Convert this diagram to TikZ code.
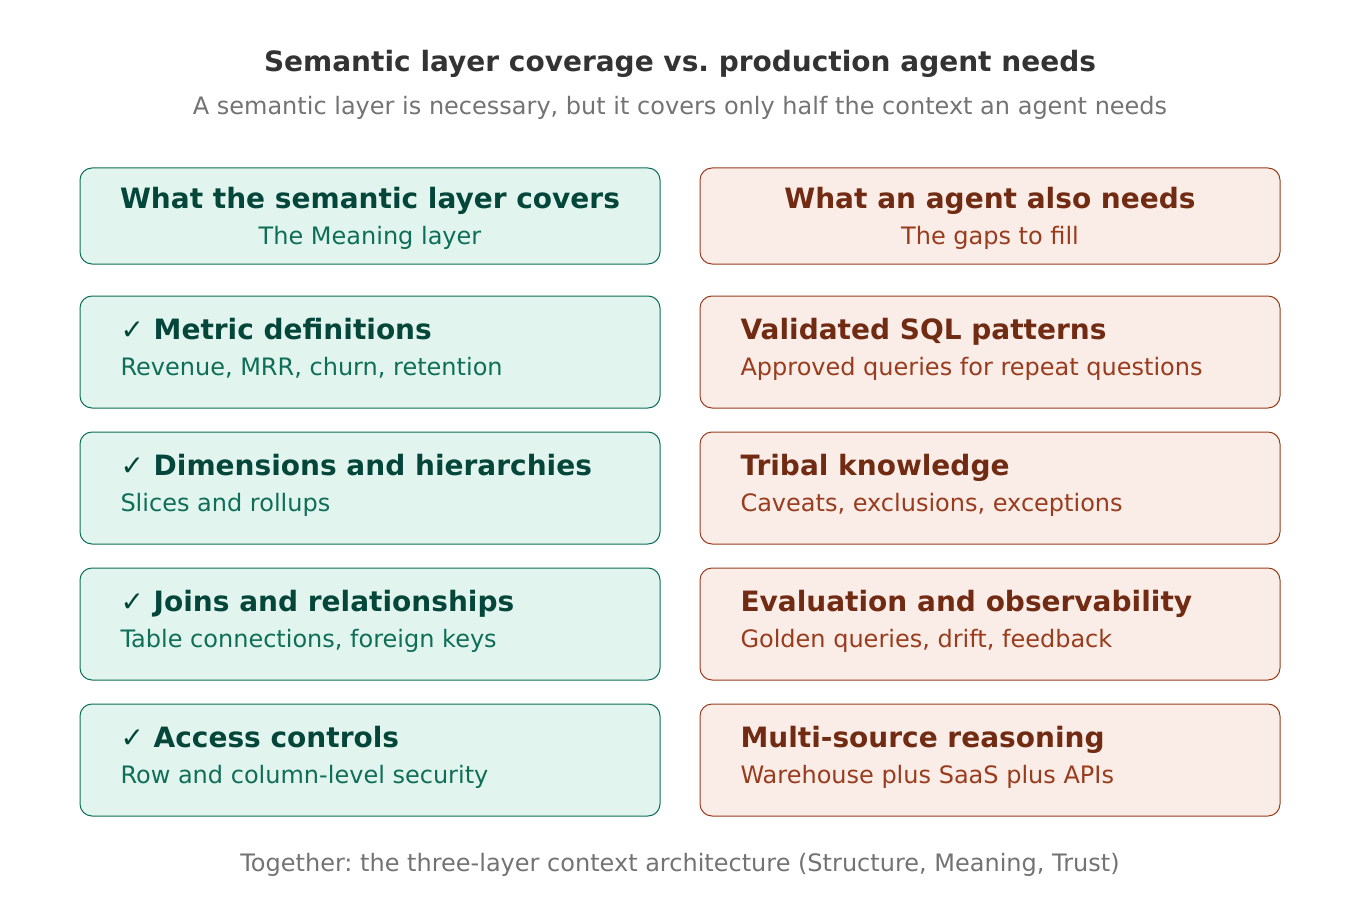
\documentclass[tikz,border=0pt]{standalone}
\usepackage{fontspec}
\setmainfont{DejaVu Sans}
\frenchspacing
\definecolor{gfill}{HTML}{E1F5EE}
\definecolor{gline}{HTML}{0F6E56}
\definecolor{gdark}{HTML}{04463A}
\definecolor{rfill}{HTML}{FAECE7}
\definecolor{rline}{HTML}{993C1D}
\definecolor{rdark}{HTML}{712B13}
\definecolor{titlegray}{HTML}{333333}
\definecolor{subgray}{HTML}{737373}
\tikzset{every picture/.style={line width=0.75pt}}
\tikzset{
  gbox/.style={draw=gline,fill=gfill,rounded corners=9pt},
  rbox/.style={draw=rline,fill=rfill,rounded corners=9pt},
  gtitle/.style={font=\fontsize{21}{24}\selectfont\bfseries,text=gdark,inner sep=0pt},
  gsub/.style={font=\fontsize{18}{21}\selectfont,text=gline,inner sep=0pt},
  rtitle/.style={font=\fontsize{21}{24}\selectfont\bfseries,text=rdark,inner sep=0pt},
  rsub/.style={font=\fontsize{18}{21}\selectfont,text=rline,inner sep=0pt}
}
\begin{document}
\begin{tikzpicture}[x=0.75pt,y=0.75pt,yscale=-1,xscale=1]
\useasboundingbox (0,0) rectangle (1360,920);

% Title
\node[font=\fontsize{21}{24}\selectfont\bfseries,text=titlegray,anchor=base] (title) at (680,72) {Semantic layer coverage vs. production agent needs};
\node[font=\fontsize{18}{21}\selectfont,text=subgray,anchor=base] (subtitle) at (680,115) {A semantic layer is necessary, but it covers only half the context an agent needs};

% Header boxes
\draw[gbox] (80,168) rectangle (660,264);
\node[gtitle,anchor=base] (lhead) at (370,209) {What the semantic layer covers};
\node[gsub,anchor=base] (lheadsub) at (370,244) {The Meaning layer};
\draw[rbox] (700,168) rectangle (1280,264);
\node[rtitle,anchor=base] (rhead) at (990,209) {What an agent also needs};
\node[rsub,anchor=base] (rheadsub) at (990,244) {The gaps to fill};

% Rows
\foreach \i/\lt/\ls/\rt/\rs in {
  0/Metric definitions/{Revenue, MRR, churn, retention}/Validated SQL patterns/Approved queries for repeat questions,
  1/Dimensions and hierarchies/Slices and rollups/Tribal knowledge/{Caveats, exclusions, exceptions},
  2/Joins and relationships/{Table connections, foreign keys}/Evaluation and observability/{Golden queries, drift, feedback},
  3/Access controls/Row and column-level security/Multi-source reasoning/Warehouse plus SaaS plus APIs}{
  \pgfmathsetmacro{\top}{296+136*\i}
  \draw[gbox] (80,\top) rectangle (660,\top+112);
  \node[gtitle,anchor=base west] (lt\i) at (120,\top+43) {✓ \lt};
  \node[gsub,anchor=base west] (ls\i) at (120,\top+79) {\ls};
  \draw[rbox] (700,\top) rectangle (1280,\top+112);
  \node[rtitle,anchor=base west] (rt\i) at (740,\top+43) {\rt};
  \node[rsub,anchor=base west] (rs\i) at (740,\top+79) {\rs};
}

% Footer
\node[font=\fontsize{18}{21}\selectfont,text=subgray,anchor=base] (footer) at (680,871) {Together: the three-layer context architecture (Structure, Meaning, Trust)};
\end{tikzpicture}
\end{document}
